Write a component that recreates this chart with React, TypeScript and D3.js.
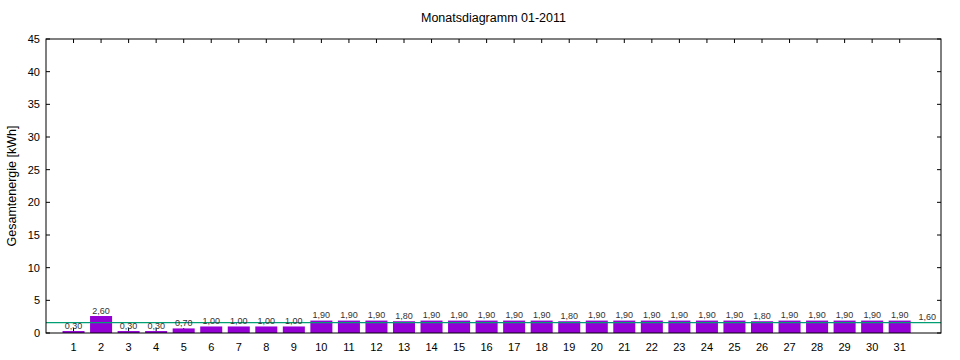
import React from "react";
import * as d3 from "d3";

const days = d3.range(1, 32);
const values = [0.3, 2.6, 0.3, 0.3, 0.7, 1.0, 1.0, 1.0, 1.0, 1.9, 1.9, 1.9, 1.8, 1.9, 1.9, 1.9, 1.9, 1.9, 1.8, 1.9, 1.9, 1.9, 1.9, 1.9, 1.9, 1.8, 1.9, 1.9, 1.9, 1.9, 1.9];
const average = 1.6;
const yTicks = [0, 5, 10, 15, 20, 25, 30, 35, 40, 45];
const title = "Monatsdiagramm 01-2011";
const yLabel = "Gesamtenergie [kWh]";

const W = 960, H = 360;
const left = 46, right = 941, top = 39, bottom = 333;
const font = "'Liberation Sans', Arial, sans-serif";

export default function App() {
  const x = d3.scaleLinear().domain([0, 32.5]).range([left, right]);
  const y = d3.scaleLinear().domain([0, 45]).range([bottom, top]);
  const bw = (x(1) - x(0)) * 0.8;
  const fmt = (v: number) => v.toFixed(2).replace(".", ",");
  return (
    <svg width={W} height={H} style={{ position: "absolute", left: 0, top: 0, background: "#fff" }} fontFamily={font}>
      <rect x={0} y={0} width={W} height={H} fill="#fff" />
      <text x={(left + right) / 2} y={22} textAnchor="middle" fontSize={12.5} fill="#000">{title}</text>
      <text transform={`translate(16,${(top + bottom) / 2}) rotate(-90)`} textAnchor="middle" fontSize={12.5} fill="#000">{yLabel}</text>
      {days.map(d => (
        <g key={d}>
          <line x1={x(d)} x2={x(d)} y1={top} y2={top + 4} stroke="#000" />
          <line x1={x(d)} x2={x(d)} y1={bottom} y2={bottom - 5} stroke="#000" />
          <text x={x(d)} y={351} textAnchor="middle" fontSize={11} fill="#000">{d}</text>
        </g>
      ))}
      {days.map((d, i) => (
        <rect key={d} x={x(d) - bw / 2} y={y(values[i])} width={bw} height={bottom - y(values[i])} fill="#9400d3" />
      ))}
      <line x1={left} x2={right} y1={y(average)} y2={y(average)} stroke="#009e73" strokeWidth={1.2} />
      {days.map((d, i) => (
        <text key={d} x={x(d)} y={y(values[i]) - 2.5} textAnchor="middle" fontSize={9} fill="#333">{fmt(values[i])}</text>
      ))}
      <text x={x(32)} y={y(average) - 2.5} textAnchor="middle" fontSize={9} fill="#333">{fmt(average)}</text>
      {yTicks.map(t => (
        <g key={t}>
          <line x1={left} x2={left + 4} y1={y(t)} y2={y(t)} stroke="#000" />
          <line x1={right} x2={right - 4} y1={y(t)} y2={y(t)} stroke="#000" />
          <text x={40} y={y(t) + 4} textAnchor="end" fontSize={11} fill="#000">{t}</text>
        </g>
      ))}
      <rect x={left} y={top} width={right - left} height={bottom - top} fill="none" stroke="#000" strokeWidth={1} />
    </svg>
  );
}
